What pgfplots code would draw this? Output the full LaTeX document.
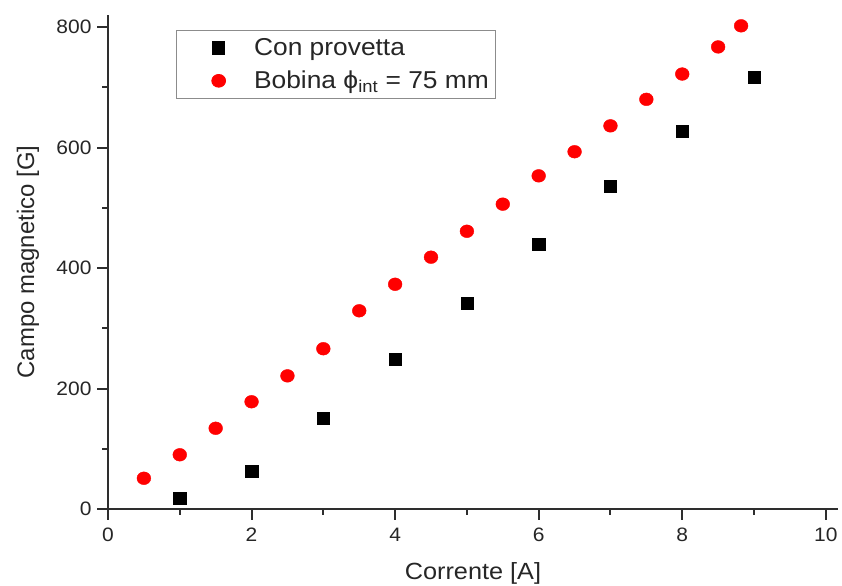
\documentclass[border=0pt]{standalone}
\usepackage{fontspec}
\setmainfont{Liberation Sans}[FakeStretch=1.08]
\newfontfamily\ylfont{Liberation Sans}
\usepackage{pgfplots}
\pgfplotsset{compat=1.18}
\usetikzlibrary{calc}
\begin{document}
\begin{tikzpicture}
\begin{axis}[
  name=ax,
  scale only axis,
  width=730bp, height=494bp,
  xmin=0, xmax=10.17, ymin=0, ymax=820,
  axis lines*=left,
  axis line style={line width=2bp, black!82},
  xtick={0,2,4,6,8,10},
  ytick={0,200,400,600,800},
  minor x tick num=1, minor y tick num=1,
  tick align=outside,
  major tick length=11bp, minor tick length=6bp,
  tick style={line width=2bp, black!82},
  /pgf/number format/assume math mode=true,
  ticklabel style={font=\fontsize{19.5}{22}\selectfont, text=black!85},
  xticklabel style={anchor=center, yshift=-14.5bp},
  yticklabel style={xshift=-2bp},
  xlabel={Corrente [A]},
  ylabel={Campo magnetico [G]},
  xlabel style={font=\fontsize{23.5}{26}\selectfont, text=black!85,
    at={(axis description cs:0.5,-0.1437)}, anchor=base},
  ylabel style={font=\ylfont\fontsize{24}{26}\selectfont, text=black!85,
    at={(axis description cs:-0.1096,0.5)}, anchor=center},
  legend style={at={(0.093,0.97)}, anchor=north west, draw=black!45, line width=0.8bp,
    font=\fontsize{24.5}{27}\selectfont, text=black!85, inner xsep=5bp, inner ysep=6.5bp,
    row sep=10bp},
  legend cell align=left,
  legend image code/.code={\path (-37bp,0bp) (33bp,0bp); \draw[#1] plot coordinates {(0bp,0bp)};},
  clip=false,
]
\addplot[only marks, mark=square*, mark size=6.2bp, draw=black, fill=black] coordinates {
(1,18) (2,63) (3,151) (4,249) (5,342) (6,440) (7,536) (8,627) (9,717)};
\addlegendentry{Con provetta}
\addplot[only marks, mark=*, mark size=6.4bp, draw=red, fill=red, mark options={xscale=1.08}] coordinates {
(0.5,51) (1,90) (1.5,134) (2,178) (2.5,221) (3,266) (3.5,329) (4,373) (4.5,418)
(5,461) (5.5,506) (6,553) (6.5,593) (7,636) (7.5,680) (8,722) (8.5,767) (8.82,802)};
\addlegendentry{Bobina ϕ\textsubscript{int} = 75 mm}
\end{axis}
\pgfresetboundingbox
\path ($(ax.south west)+(-108bp,-77bp)$) rectangle ($(ax.north east)+(4bp,15bp)$);
\end{tikzpicture}
\end{document}
